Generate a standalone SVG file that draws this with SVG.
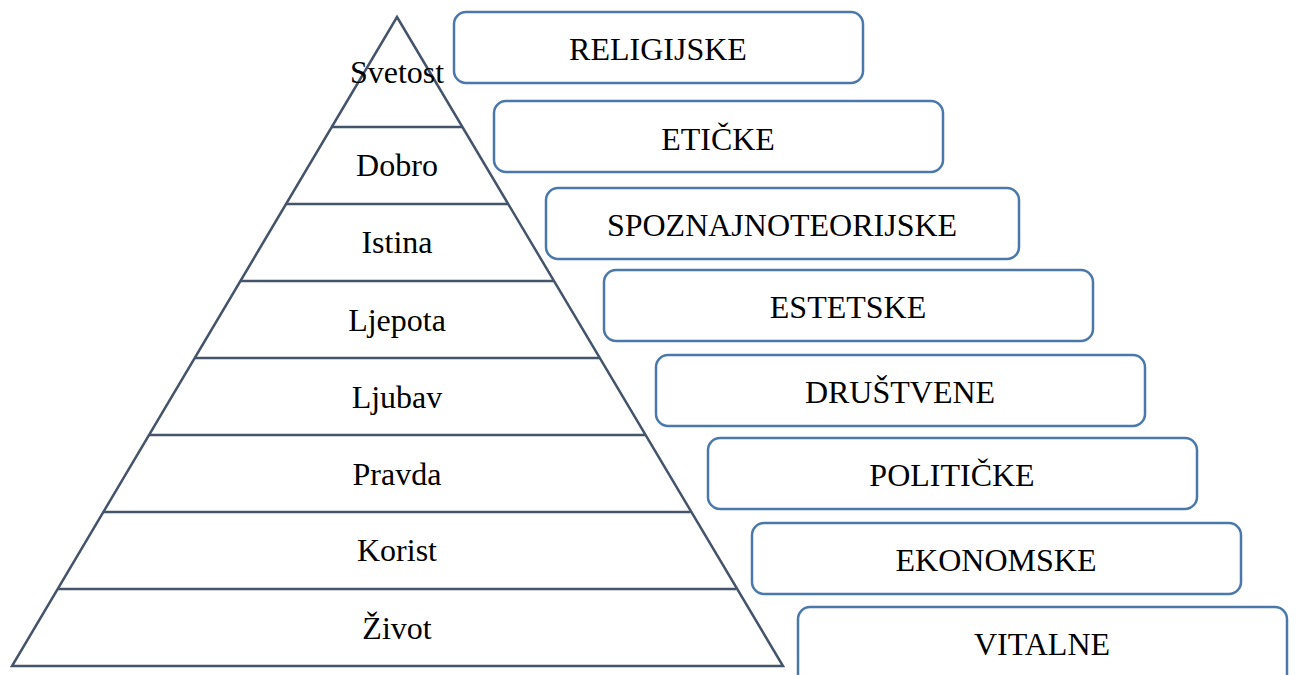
<svg xmlns="http://www.w3.org/2000/svg" width="1296" height="675" viewBox="0 0 1296 675">
<style>
.pyr{fill:none;stroke:#44546a;stroke-width:2.5;stroke-linejoin:miter}
.box{fill:#ffffff;stroke:#4a78aa;stroke-width:2.5}
.t{font-family:"Liberation Serif","Times New Roman",serif;font-size:32px;fill:#000;text-anchor:middle}
</style>
<rect width="1296" height="675" fill="#ffffff"/>
<g id="pyramid">
<polygon class="pyr" points="397,17 783,666 12,666"/>
<line class="pyr" x1="331.8" y1="127" x2="462.2" y2="127"/>
<line class="pyr" x1="286.1" y1="204" x2="507.9" y2="204"/>
<line class="pyr" x1="240.5" y1="281" x2="553.5" y2="281"/>
<line class="pyr" x1="194.8" y1="358" x2="599.2" y2="358"/>
<line class="pyr" x1="149.1" y1="435" x2="644.9" y2="435"/>
<line class="pyr" x1="103.5" y1="512" x2="690.5" y2="512"/>
<line class="pyr" x1="57.8" y1="589" x2="736.2" y2="589"/>
</g>
<g id="levels">
<text class="t" x="397" y="83">Svetost</text>
<text class="t" x="397" y="176">Dobro</text>
<text class="t" x="397" y="253">Istina</text>
<text class="t" x="397" y="331">Ljepota</text>
<text class="t" x="397" y="408">Ljubav</text>
<text class="t" x="397" y="485">Pravda</text>
<text class="t" x="397" y="561">Korist</text>
<text class="t" x="397" y="639">Život</text>
</g>
<g id="box-religijske"><rect class="box" x="454" y="12" width="409" height="71" rx="12"/><text class="t" x="658" y="60">RELIGIJSKE</text></g>
<g id="box-eticke"><rect class="box" x="494" y="101" width="449" height="71" rx="12"/><text class="t" x="718" y="150">ETIČKE</text></g>
<g id="box-spoznajnoteorijske"><rect class="box" x="546" y="188" width="473" height="71" rx="12"/><text class="t" x="782" y="236">SPOZNAJNOTEORIJSKE</text></g>
<g id="box-estetske"><rect class="box" x="604" y="270" width="489" height="71" rx="12"/><text class="t" x="848" y="318">ESTETSKE</text></g>
<g id="box-drustvene"><rect class="box" x="656" y="355" width="489" height="71" rx="12"/><text class="t" x="900" y="403">DRUŠTVENE</text></g>
<g id="box-politicke"><rect class="box" x="708" y="438" width="489" height="71" rx="12"/><text class="t" x="952" y="486">POLITIČKE</text></g>
<g id="box-ekonomske"><rect class="box" x="752" y="523" width="489" height="71" rx="12"/><text class="t" x="996" y="571">EKONOMSKE</text></g>
<g id="box-vitalne"><rect class="box" x="798" y="607" width="489" height="80" rx="12"/><text class="t" x="1042" y="655">VITALNE</text></g>
<g id="connectors"></g>
</svg>
